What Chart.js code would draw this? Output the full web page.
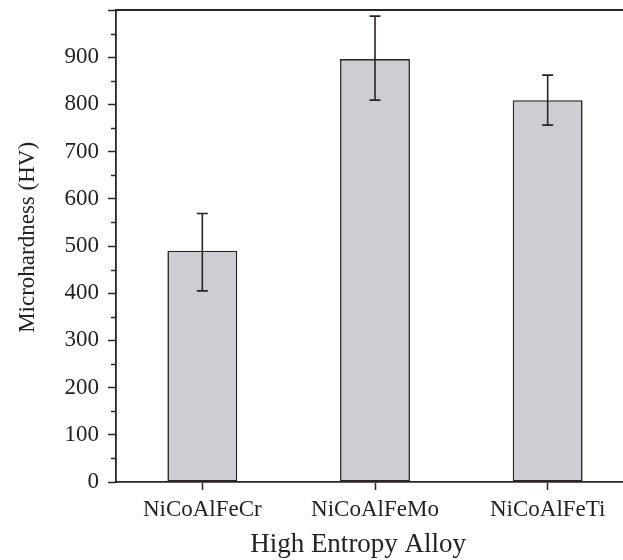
<!DOCTYPE html>
<html lang="en">
<head>
  <meta charset="UTF-8">
  <title>Microhardness</title>
  <script src="https://cdn.jsdelivr.net/npm/chart.js"></script>
  <style>
    html, body { margin: 0; padding: 0; background: #fff; overflow: hidden; }
    #wrap { width: 645px; height: 560px; }
  </style>
</head>
<body>
  <div id="wrap"><canvas id="hardnessChart"></canvas></div>

  <script>
    const alloys = ['NiCoAlFeCr', 'NiCoAlFeMo', 'NiCoAlFeTi'];
    const hardness = [490, 896, 809];
    const errLow = [405, 809, 756];
    const errHigh = [569, 987, 862];

    const ink = '#2a2422';
    const serif = '"Liberation Serif", "DejaVu Serif", serif';

    // error bars, top frame line and minor y ticks
    const extras = {
      id: 'extras',
      afterDatasetsDraw(chart) {
        const { ctx, chartArea, scales: { x, y } } = chart;
        ctx.save();
        ctx.strokeStyle = ink;
        ctx.lineWidth = 1.6;
        alloys.forEach((name, i) => {
          const cx = x.getPixelForValue(i);
          const top = y.getPixelForValue(errHigh[i]);
          const bot = y.getPixelForValue(errLow[i]);
          ctx.beginPath();
          ctx.moveTo(cx, top); ctx.lineTo(cx, bot);
          ctx.moveTo(cx - 5.5, top); ctx.lineTo(cx + 5.5, top);
          ctx.moveTo(cx - 5.5, bot); ctx.lineTo(cx + 5.5, bot);
          ctx.stroke();
        });
        // top frame
        ctx.lineWidth = 1.8;
        ctx.beginPath();
        ctx.moveTo(chartArea.left - 1, chartArea.top);
        ctx.lineTo(chartArea.right + 20, chartArea.top);
        ctx.stroke();
        // minor ticks
        ctx.lineWidth = 1.5;
        for (let v = 50; v < 1000; v += 100) {
          const py = Math.round(y.getPixelForValue(v)) + 0.5;
          ctx.beginPath();
          ctx.moveTo(chartArea.left, py);
          ctx.lineTo(chartArea.left - 5, py);
          ctx.stroke();
        }
        ctx.restore();
      }
    };

    new Chart(document.getElementById('hardnessChart'), {
      type: 'bar',
      data: {
        labels: alloys,
        datasets: [{
          data: hardness,
          backgroundColor: '#cdcdd3',
          borderColor: ink,
          borderWidth: 1.6,
          borderSkipped: false,
          barPercentage: 0.405,
          categoryPercentage: 1
        }]
      },
      options: {
        responsive: true,
        maintainAspectRatio: false,
        animation: false,
        layout: { padding: { top: 10, right: 11, left: 0, bottom: 0 } },
        plugins: { legend: { display: false }, tooltip: { enabled: false } },
        scales: {
          x: {
            afterFit(scale) {
              scale.height = 78;
              scale.paddingLeft = 0;
              scale.paddingRight = 0;
            },
            grid: { offset: false, drawOnChartArea: false, tickLength: 8, tickColor: ink, tickWidth: 1.5 },
            border: { color: ink, width: 1.8 },
            ticks: { color: '#222', padding: 6, font: { family: serif, size: 23 } },
            title: {
              display: true,
              // trailing spaces nudge the centred title left like the original
              text: 'High Entropy Alloy     ',
              color: '#222',
              font: { family: serif, size: 27 },
              padding: { top: 0, bottom: -1 }
            }
          },
          y: {
            min: 0,
            max: 1000,
            afterFit(scale) {
              scale.width = 116;
              scale.paddingTop = 0;
              scale.paddingBottom = 0;
            },
            grid: { drawOnChartArea: false, tickLength: 8, tickColor: ink, tickWidth: 1.5 },
            border: { color: ink, width: 1.8 },
            ticks: {
              stepSize: 100,
              color: '#222',
              padding: 9,
              font: { family: serif, size: 23 },
              callback: v => (v === 1000 ? '' : v)
            },
            title: {
              display: true,
              text: '   Microhardness (HV)',
              color: '#222',
              font: { family: serif, size: 23 },
              padding: { top: 14, bottom: 0 }
            }
          }
        }
      },
      plugins: [extras]
    });
  </script>
</body>
</html>
